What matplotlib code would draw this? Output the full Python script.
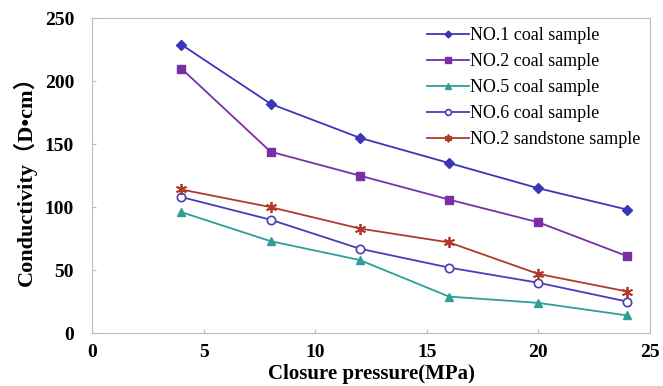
import matplotlib
matplotlib.use("Agg")
import matplotlib.pyplot as plt

# Closure pressure (MPa)
pressure = [4, 8, 12, 16, 20, 24]

# Conductivity (D*cm)
no1_coal = [229, 182, 155, 135, 115, 98]
no2_coal = [210, 144, 125, 106, 88, 61]
no5_coal = [96, 73, 58, 29, 24, 14]
no6_coal = [108, 90, 67, 52, 40, 25]
no2_sand = [114, 100, 83, 72, 47, 33]

labels = ["NO.1 coal sample", "NO.2 coal sample", "NO.5 coal sample",
          "NO.6 coal sample", "NO.2 sandstone sample"]

plt.rcParams['font.family'] = ['Liberation Serif', 'DejaVu Serif']

fig = plt.figure(figsize=(6.63, 3.86), dpi=100)
ax = fig.add_axes([0.139, 0.137, 0.841, 0.816])

ax.plot(pressure, no1_coal, color='#3B36B8', marker='D', markersize=5, lw=1.3, label=labels[0])
ax.plot(pressure, no2_coal, color='#7A2FA8', marker='s', markersize=6, lw=1.3, label=labels[1])
ax.plot(pressure, no5_coal, color='#2E9E96', marker='^', markersize=6, lw=1.3, label=labels[2])
ax.plot(pressure, no6_coal, color='#4A3CB8', marker='o', markersize=6, mfc='white', mew=1.2, lw=1.3, label=labels[3])
ax.plot(pressure, no2_sand, color='#B03A2A', marker=(6, 2, 0), markersize=8, mew=1.3, lw=1.3, label=labels[4])

ax.set_xlim(0, 25)
ax.set_ylim(0, 250)
ax.set_xticks([0, 5, 10, 15, 20, 25])
ax.set_yticks([0, 50, 100, 150, 200, 250])
ax.tick_params(direction='in', length=3, color='#bbbbbb', labelsize=14)
ax.tick_params(axis='y', pad=13)
ax.tick_params(axis='x', pad=8)
for t in ax.get_xticklabels() + ax.get_yticklabels():
    t.set_fontweight('bold')
for s in ax.spines.values():
    s.set_color('#bbbbbb')
    s.set_linewidth(0.8)

ax.set_xlabel('Closure pressure(MPa)', fontsize=15, fontweight='bold', labelpad=2)
ax.set_ylabel('Conductivity（D•cm）', fontsize=16, fontweight='bold', labelpad=6,
              family=['Liberation Serif', 'Noto Sans CJK SC', 'DejaVu Sans'])

ax.legend(loc='upper right', frameon=False, fontsize=13, handlelength=2.3,
          handletextpad=0.1, labelspacing=0.5, borderaxespad=0.1, markerscale=0.7)

fig.savefig('out.png', dpi=100)
